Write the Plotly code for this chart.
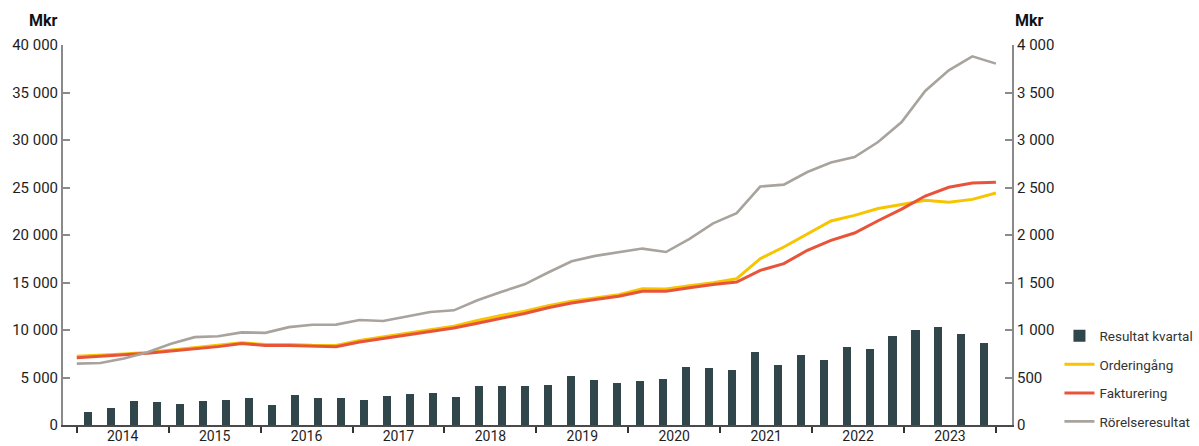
import numpy as np
import plotly.graph_objects as go

# Quarterly result (Mkr), Q1 2014 .. Q4 2023
resultat_kvartal = [
    134, 176, 249, 239,
    218, 249, 260, 281,
    207, 313, 281, 281,
    260, 302, 323, 334,
    292, 407, 407, 407,
    418, 513, 471, 439,
    460, 481, 607, 597,
    576, 765, 628, 734,
    681, 818, 797, 934,
    997, 1028, 955, 860,
]

# Rolling twelve-month figures (Mkr), one value per quarter
orderingang = [
    7230, 7330, 7480, 7630, 7880, 8170, 8380, 8650, 8480, 8480,
    8400, 8380, 8900, 9300, 9680, 10040, 10390, 11000, 11530, 11970,
    12550, 13020, 13380, 13720, 14330, 14320, 14650, 14970, 15400, 17510,
    18740, 20140, 21480, 22070, 22780, 23200, 23650, 23450, 23750, 24420,
]
fakturering = [
    7090, 7230, 7380, 7560, 7800, 8040, 8250, 8580, 8380, 8380,
    8290, 8240, 8740, 9110, 9440, 9790, 10210, 10720, 11230, 11730,
    12350, 12850, 13200, 13550, 14070, 14070, 14450, 14800, 15050, 16280,
    16990, 18390, 19440, 20210, 21500, 22720, 24100, 25020, 25470, 25550,
]
rorelseresultat = [
    646, 653, 699, 765, 855, 925, 935, 975, 970, 1030,
    1055, 1057, 1105, 1095, 1142, 1189, 1207, 1313, 1400, 1481,
    1605, 1723, 1780, 1815, 1857, 1821, 1960, 2123, 2230, 2510,
    2530, 2663, 2762, 2821, 2979, 3189, 3516, 3734, 3881, 3804,
]

years = ["2014", "2015", "2016", "2017", "2018", "2019", "2020", "2021", "2022", "2023"]

left_ticks = [0, 5000, 10000, 15000, 20000, 25000, 30000, 35000, 40000]
left_labels = ["0", "5 000", "10 000", "15 000", "20 000", "25 000", "30 000", "35 000", "40 000"]
right_ticks = [0, 500, 1000, 1500, 2000, 2500, 3000, 3500, 4000]
right_labels = ["0", "500", "1 000", "1 500", "2 000", "2 500", "3 000", "3 500", "4 000"]

# x measured in quarters from the start of 2014; bars sit mid-quarter,
# the twelve-month lines span the full period from start to end
n = len(resultat_kvartal)
x_bars = np.arange(n) + 0.5
x_lines = np.linspace(0, n, len(orderingang))

FONT = "Roboto, Inter, Arial, sans-serif"
TXT = "#1e1e1e"

fig = go.Figure()
fig.add_trace(go.Bar(
    x=x_bars, y=resultat_kvartal, name="Resultat kvartal", yaxis="y2", legendgroup="a",
    marker=dict(color="#30464b", line=dict(width=0)), width=0.35,
))
fig.add_trace(go.Scatter(
    x=x_lines, y=orderingang, name="Orderingång", mode="lines", legendgroup="b",
    line=dict(color="#f6c500", width=3),
))
fig.add_trace(go.Scatter(
    x=x_lines, y=fakturering, name="Fakturering", mode="lines", legendgroup="c",
    line=dict(color="#e8543a", width=3),
))
fig.add_trace(go.Scatter(
    x=x_lines, y=rorelseresultat, name="Rörelseresultat", mode="lines", yaxis="y2",
    legendgroup="d",
    line=dict(color="#a8a39d", width=2.6),
))

fig.update_layout(
    width=1199, height=446,
    margin=dict(l=63, r=187, t=45, b=21, autoexpand=False),
    paper_bgcolor="white", plot_bgcolor="white",
    font=dict(family=FONT, size=15, color=TXT),
    bargap=0,
    showlegend=True,
    legend=dict(
        x=1.050, xanchor="left", y=0.275, yanchor="top",
        font=dict(family=FONT, size=13.5, color="#333"),
        itemwidth=30, tracegroupgap=8, traceorder="grouped",
        bgcolor="rgba(0,0,0,0)",
    ),
    xaxis=dict(
        range=[-0.6, 40.7],
        tickmode="array",
        tickvals=[4 * i + 2 for i in range(len(years))],
        ticktext=years,
        ticks="", showgrid=False, zeroline=False,
        showline=True, linecolor="#4a4a4a", linewidth=2,
        tickfont=dict(size=14, color=TXT),
        ticklabelstandoff=-3,
        minor=dict(tick0=0, dtick=4, ticks="outside", ticklen=6, tickwidth=1.5,
                   tickcolor="#333", showgrid=False),
        fixedrange=True,
    ),
    yaxis=dict(
        range=[0, 40000], tickmode="array", tickvals=left_ticks, ticktext=left_labels,
        ticks="inside", ticklen=7, tickwidth=1.5, tickcolor="#8a8a8a",
        showline=True, linecolor="#8a8a8a", linewidth=2,
        showgrid=False, zeroline=False,
        tickfont=dict(size=15, color=TXT),
    ),
    yaxis2=dict(
        range=[0, 4000], overlaying="y", side="right", anchor="x",
        tickmode="array", tickvals=right_ticks, ticktext=right_labels,
        ticks="inside", ticklen=7, tickwidth=1.5, tickcolor="#8a8a8a",
        showline=True, linecolor="#8a8a8a", linewidth=2,
        showgrid=False, zeroline=False,
        tickfont=dict(size=15, color=TXT),
    ),
)

fig.add_annotation(text="<b>Mkr</b>", xref="paper", yref="paper", x=-0.021, y=1.033,
                   xanchor="center", yanchor="bottom", showarrow=False,
                   font=dict(size=16, color="#111"))
fig.add_annotation(text="<b>Mkr</b>", xref="paper", yref="paper", x=1.018, y=1.033,
                   xanchor="center", yanchor="bottom", showarrow=False,
                   font=dict(size=16, color="#111"))

fig.write_html("out.html")
